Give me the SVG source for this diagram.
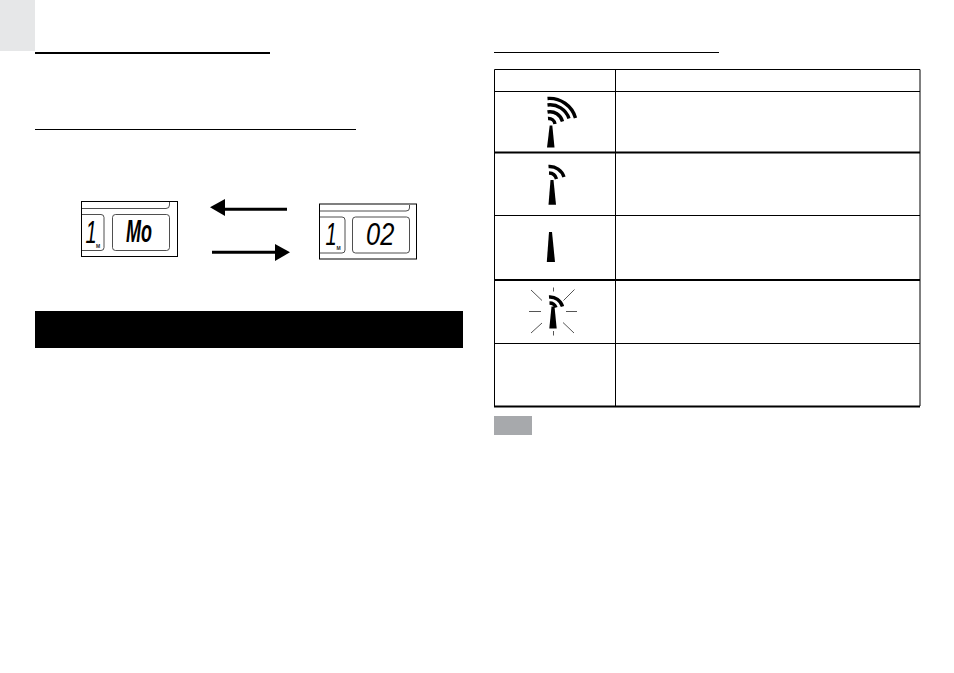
<svg xmlns="http://www.w3.org/2000/svg" width="954" height="673" viewBox="0 0 954 673">
<style>
.ln{stroke:#000;fill:none}
.box{fill:#fff;stroke:#000;stroke-width:1}
.in{fill:none;stroke:#222;stroke-width:.8}
.arc{fill:none;stroke:#000;stroke-width:3.400}
.ray{stroke:#555;stroke-width:1;fill:none}
.lcd{font-family:"Liberation Sans",Arial,sans-serif;font-style:italic;fill:#000;font-size:31px}
.unit{font-family:"Liberation Sans",Arial,sans-serif;font-weight:bold;font-size:5px;fill:#222}
</style>
<rect width="954" height="673" fill="#fff"/>
<rect id="tab" x="0" y="0" width="35" height="51" fill="#e6e7e8"/>
<g id="rules">
<rect x="35" y="52" width="235" height="2"/>
<rect x="35" y="129" width="321" height="1"/>
<rect x="494" y="52" width="225" height="1"/>
</g>
<g id="lcd-mo">
<rect class="box" x="81.500" y="201.500" width="96" height="55"/>
<path class="in" d="M82 208.500H166Q169.500 208.500 169.500 205V202"/>
<path class="in" d="M82 214.500H101Q104 214.500 104 217.500V247.500Q104 250.500 101 250.500H82"/>
<rect class="in" x="112.500" y="214.500" width="57" height="36" rx="3"/>
<text class="lcd" transform="translate(85.500 242.500) scale(.65 1)">1</text>
<text class="unit" x="96" y="248">M</text>
<text class="lcd" transform="translate(126 241.500) scale(.58 1)" font-weight="bold">Mo</text>
</g>
<g id="lcd-02">
<rect class="box" x="319.500" y="204" width="97" height="55" stroke-width="1.500"/>
<path class="in" d="M320 211H406Q409.500 211 409.500 208V205"/>
<path class="in" d="M320 217H342Q345 217 345 220V250Q345 253 342 253H320"/>
<rect class="in" x="352.500" y="217" width="57" height="36" rx="3"/>
<text class="lcd" transform="translate(325.500 245) scale(.65 1)">1</text>
<text class="unit" x="336.500" y="250">M</text>
<text class="lcd" transform="translate(366 245) scale(.82 1)">02</text>
</g>
<g id="connectors">
<path d="M287 209.300H222" stroke="#000" stroke-width="3" fill="none"/>
<path d="M210 207.300L225 199V216Z"/>
<path d="M212 252.300H278" stroke="#000" stroke-width="3" fill="none"/>
<path d="M290 252.300L275 244V261Z"/>
</g>
<rect id="banner" x="35" y="311" width="428" height="37"/>
<g id="table">
<path class="ln" d="M494.500 69.500H920V406M494.500 69.500V406M615.500 69.500V406" stroke-width="1"/>
<path class="ln" d="M494 91.500H920M494 215.500H920M494 343.500H920" stroke-width="1"/>
<path class="ln" d="M494 152.500H920M494 280H920M494 406.500H920" stroke-width="2"/>
</g>
<g id="signal-high">
<path d="M549.700 125.500H552.300L554.500 147.500H547Z"/>
<path class="arc" d="M547.500 98.500A27 27 0 0 1 575.500 118M547.500 105A20 20 0 0 1 569 118.500M547.500 112A13 13 0 0 1 562.500 121.500M548 118.500A6.500 6.500 0 0 1 555 124"/>
</g>
<g id="signal-mid">
<path d="M550.500 180H553.500L556 204.700H548.500Z"/>
<path class="arc" d="M548.500 166.500A15 15 0 0 1 564 177M549 173A8 8 0 0 1 556.500 179"/>
</g>
<g id="signal-low">
<path d="M549 232H552L555 262H546.800Z"/>
</g>
<g id="signal-search">
<path d="M551.500 306.500H554.500L556.700 328.500H549.300Z"/>
<path class="arc" d="M549 297A13 13 0 0 1 562.500 306.500M549.500 303A7 7 0 0 1 556 307.500"/>
<path class="ray" d="M553.500 287.500V291.500M553.500 331V335.500M529 311.500H541M566 311.500H577M531 290L542 300.500M574.500 289.500L563.500 300.500M531 333L542 323M574 333L563 322.500"/>
</g>
<rect id="note" x="494" y="416" width="38" height="19" fill="#a7a9ac"/>
</svg>
